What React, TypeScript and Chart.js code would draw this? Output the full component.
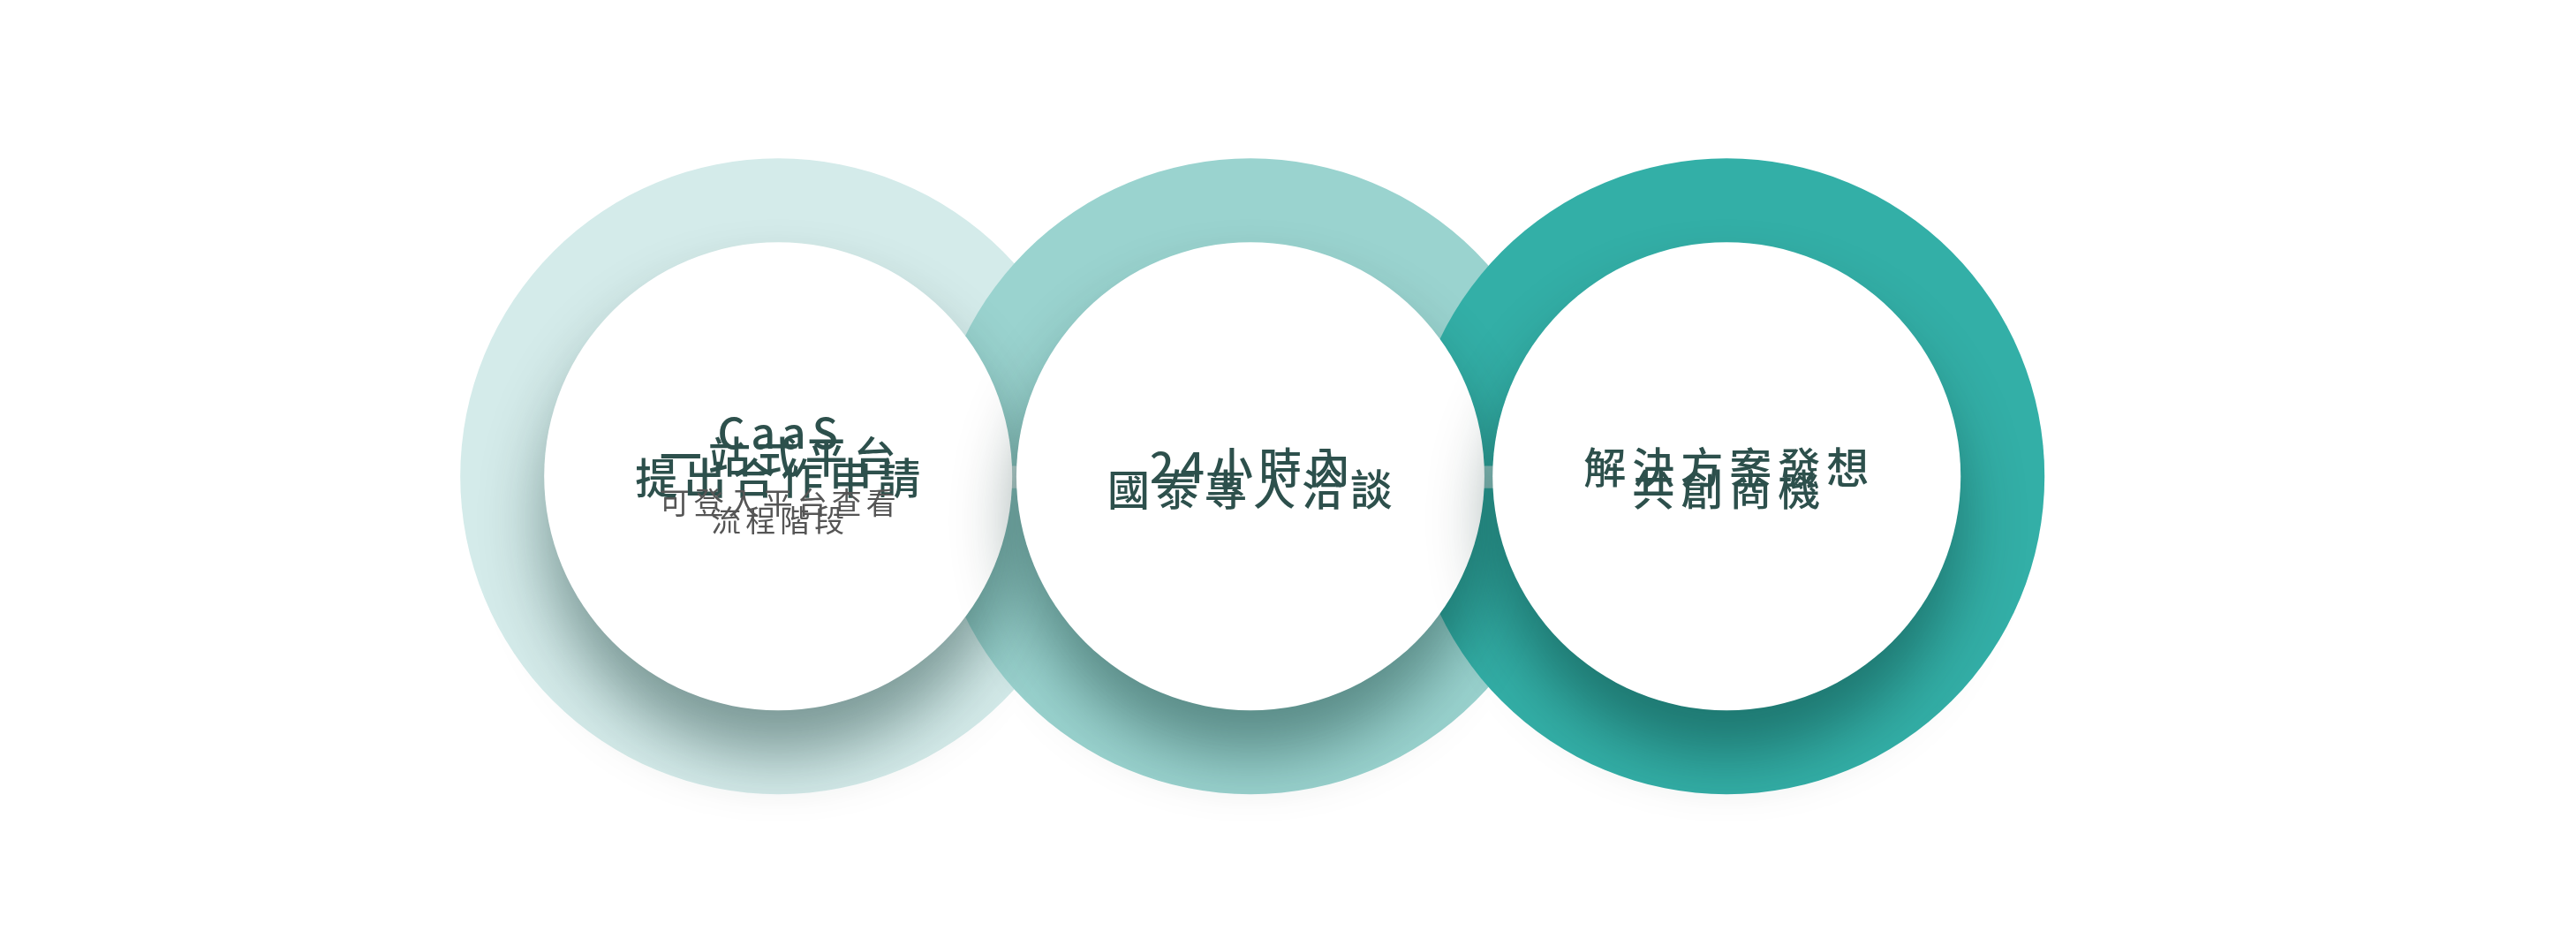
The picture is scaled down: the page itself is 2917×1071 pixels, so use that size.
import React, { useEffect, useRef } from "react";
import { Chart, registerables } from "chart.js";
Chart.register(...registerables);

const stepX = [692, 1402, 2118];
const stepY = [547, 547, 547];
const ringColors = ["#d4ebea", "#9ad3cf", "#33afa7"];
const bridgeColors = ["#d4ebea", "#9ad3cf"];
const titleLines = [["CaaS", "一站式平台", "提出合作申請"], ["24小時內", "國泰專人洽談"], ["解決方案發想", "共創商機"]];
const titleY = [[396, 477, 553], [514, 591], [514, 591]];
const subLines = [["可登入平台查看", "流程階段"], [], []];
const subY = [[638, 699], [], []];

export default function App() {
  const ref = useRef<HTMLCanvasElement>(null);
  useEffect(() => {
    document.body.style.margin = "0";
    const pts = stepX.map((x, i) => ({ x, y: stepY[i] }));
    const plugin = {
      id: "deco",
      beforeDatasetDraw(chart: any, args: any) {
        const ctx = chart.ctx;
        if (args.index === 1) {
          const xs = chart.scales.x, ys = chart.scales.y;
          ctx.save();
          for (let i = 0; i < bridgeColors.length; i++) {
            const x0 = xs.getPixelForValue(stepX[i] + 340);
            const x1 = xs.getPixelForValue(stepX[i + 1] - 250);
            const y0 = ys.getPixelForValue(stepY[i] - 36);
            const y1 = ys.getPixelForValue(stepY[i] + 41);
            ctx.fillStyle = bridgeColors[i];
            ctx.fillRect(x0, y0, x1 - x0, y1 - y0);
          }
          ctx.restore();
          ctx.save();
          ctx.shadowColor = "rgba(0,40,35,0.42)";
          ctx.shadowBlur = 70;
          ctx.shadowOffsetY = 50;
        }
      },
      afterDatasetDraw(chart: any, args: any) {
        if (args.index === 1) chart.ctx.restore();
      },
      afterDraw(chart: any) {
        const ctx = chart.ctx;
        const xs = chart.scales.x, ys = chart.scales.y;
        ctx.save();
        ctx.textAlign = "center";
        ctx.textBaseline = "middle";
        stepX.forEach((sx, i) => {
          const px = xs.getPixelForValue(sx);
          ctx.fillStyle = "#2d504c";
          ctx.font = "500 48px 'Noto Sans CJK TC'";
          (ctx as any).letterSpacing = "7px";
          titleLines[i].forEach((t, j) => ctx.fillText(t, px + 3, ys.getPixelForValue(titleY[i][j])));
          ctx.fillStyle = "#555555";
          ctx.font = "400 34px 'Noto Sans CJK TC'";
          (ctx as any).letterSpacing = "5px";
          subLines[i].forEach((t, j) => ctx.fillText(t, px + 2, ys.getPixelForValue(subY[i][j])));
        });
        ctx.restore();
      },
    };
    const chart = new Chart(ref.current!, {
      type: "scatter",
      data: {
        datasets: [
          { data: pts, pointRadius: 360, pointHoverRadius: 360, pointBackgroundColor: ringColors, pointBorderWidth: 0, order: 2, clip: false } as any,
          { data: pts, pointRadius: 265, pointHoverRadius: 265, pointBackgroundColor: "#ffffff", pointBorderWidth: 0, order: 1, clip: false } as any,
        ],
      },
      options: {
        animation: false,
        responsive: true,
        maintainAspectRatio: false,
        devicePixelRatio: 1,
        events: [],
        layout: { padding: 0 },
        plugins: { legend: { display: false }, tooltip: { enabled: false } },
        scales: {
          x: { type: "linear", min: 0, max: 2917, display: false },
          y: { type: "linear", min: 0, max: 1071, reverse: true, display: false },
        },
      },
      plugins: [plugin],
    });
    return () => chart.destroy();
  }, []);
  return (
    <div style={{ position: "relative", width: 2917, height: 1071, background: "#fff" }}>
      <canvas ref={ref} />
    </div>
  );
}
